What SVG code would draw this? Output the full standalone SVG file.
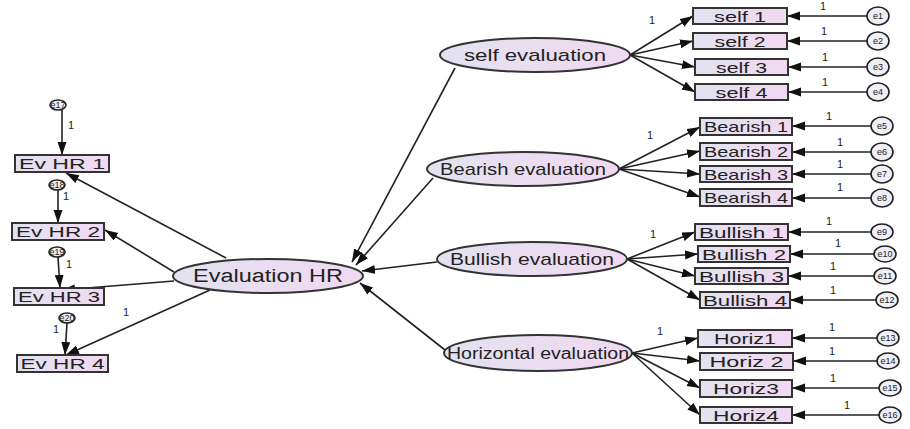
<svg xmlns="http://www.w3.org/2000/svg" width="910" height="429" viewBox="0 0 910 429">
<defs>
<linearGradient id="g" x1="0" y1="0" x2="1" y2="0">
<stop offset="0" stop-color="#e2e2f0"/>
<stop offset="1" stop-color="#f1d9f1"/>
</linearGradient>
<marker id="ah" markerUnits="userSpaceOnUse" markerWidth="14" markerHeight="10" refX="13" refY="4.5" orient="auto">
<path d="M0,0 L13,4.5 L0,9 z" fill="#111"/>
</marker>
<style>
.box{fill:url(#g);stroke:#333;stroke-width:2}
.lat{fill:url(#g);stroke:#333;stroke-width:2}
.err{fill:#f0eef6;stroke:#222;stroke-width:1.6}
.t{font-family:"Liberation Sans",Arial,sans-serif;fill:#222;text-anchor:middle}
.bt{font-size:15px}
.lt{font-size:17px}
.et{font-size:9px}
.one{font-family:"Liberation Sans",Arial,sans-serif;font-size:11px;fill:#222}
.c{stroke:#222;stroke-width:1.6;fill:none;marker-end:url(#ah)}
</style>
</defs>
<rect width="910" height="429" fill="#fff"/>

<g id="connectors">
<line class="c" x1="455" y1="68" x2="352" y2="262"/>
<line class="c" x1="433" y1="178" x2="356" y2="265"/>
<line class="c" x1="437" y1="262" x2="362" y2="271"/>
<line class="c" x1="445" y1="350" x2="360" y2="283"/>
<line class="c" x1="226" y1="258" x2="66" y2="173"/>
<line class="c" x1="174" y1="272" x2="105" y2="230"/>
<line class="c" x1="174" y1="281" x2="62" y2="290"/>
<line class="c" x1="210" y1="290" x2="66" y2="355"/>
<line class="c" x1="62" y1="110" x2="62" y2="155"/>
<line class="c" x1="58" y1="190" x2="58" y2="223"/>
<line class="c" x1="58" y1="257" x2="60" y2="288"/>
<line class="c" x1="67" y1="323" x2="65" y2="355"/>
<line class="c" x1="630" y1="55" x2="693" y2="16"/>
<line class="c" x1="630" y1="55" x2="693" y2="41"/>
<line class="c" x1="630" y1="55" x2="695" y2="67"/>
<line class="c" x1="630" y1="55" x2="695" y2="92"/>
<line class="c" x1="619" y1="169" x2="700" y2="127"/>
<line class="c" x1="619" y1="169" x2="700" y2="151"/>
<line class="c" x1="619" y1="169" x2="700" y2="174"/>
<line class="c" x1="619" y1="169" x2="700" y2="197"/>
<line class="c" x1="627" y1="259" x2="695" y2="232"/>
<line class="c" x1="627" y1="259" x2="698" y2="254"/>
<line class="c" x1="627" y1="259" x2="695" y2="276"/>
<line class="c" x1="627" y1="259" x2="700" y2="300"/>
<line class="c" x1="632" y1="353" x2="698" y2="338"/>
<line class="c" x1="632" y1="353" x2="700" y2="361"/>
<line class="c" x1="632" y1="353" x2="700" y2="388"/>
<line class="c" x1="632" y1="353" x2="700" y2="415"/>
<line class="c" x1="867" y1="16" x2="787" y2="16"/>
<line class="c" x1="867" y1="41" x2="787" y2="41"/>
<line class="c" x1="867" y1="67" x2="788" y2="67"/>
<line class="c" x1="867" y1="92" x2="788" y2="92"/>
<line class="c" x1="871" y1="126" x2="792" y2="126"/>
<line class="c" x1="871" y1="152" x2="792" y2="152"/>
<line class="c" x1="871" y1="174" x2="792" y2="174"/>
<line class="c" x1="871" y1="198" x2="792" y2="198"/>
<line class="c" x1="871" y1="232" x2="788" y2="232"/>
<line class="c" x1="874" y1="254" x2="790" y2="254"/>
<line class="c" x1="874" y1="276" x2="788" y2="276"/>
<line class="c" x1="876" y1="300" x2="790" y2="300"/>
<line class="c" x1="877" y1="338" x2="792" y2="338"/>
<line class="c" x1="877" y1="361" x2="793" y2="361"/>
<line class="c" x1="879" y1="388" x2="792" y2="388"/>
<line class="c" x1="879" y1="415" x2="792" y2="415"/>
<text class="one" x="68" y="129">1</text>
<text class="one" x="63" y="200">1</text>
<text class="one" x="66" y="268">1</text>
<text class="one" x="53" y="333">1</text>
<text class="one" x="123" y="316">1</text>
<text class="one" x="649" y="24">1</text>
<text class="one" x="647" y="139">1</text>
<text class="one" x="650" y="238">1</text>
<text class="one" x="657" y="335">1</text>
<text class="one" x="820" y="10">1</text>
<text class="one" x="821" y="35">1</text>
<text class="one" x="822" y="61">1</text>
<text class="one" x="822" y="86">1</text>
<text class="one" x="826" y="120">1</text>
<text class="one" x="837" y="146">1</text>
<text class="one" x="837" y="168">1</text>
<text class="one" x="837" y="191">1</text>
<text class="one" x="826" y="225">1</text>
<text class="one" x="835" y="247">1</text>
<text class="one" x="830" y="270">1</text>
<text class="one" x="830" y="294">1</text>
<text class="one" x="829" y="331">1</text>
<text class="one" x="829" y="355">1</text>
<text class="one" x="830" y="382">1</text>
<text class="one" x="844" y="409">1</text>
</g>

<g id="evhr1"><rect class="box" x="15" y="155" width="94" height="17"/><text class="t bt" x="62" y="169" textLength="86" lengthAdjust="spacingAndGlyphs">Ev HR 1</text></g>
<g id="evhr2"><rect class="box" x="12" y="223" width="92" height="17"/><text class="t bt" x="58" y="237" textLength="84" lengthAdjust="spacingAndGlyphs">Ev HR 2</text></g>
<g id="evhr3"><rect class="box" x="14" y="288" width="90" height="17"/><text class="t bt" x="59" y="302" textLength="82" lengthAdjust="spacingAndGlyphs">Ev HR 3</text></g>
<g id="evhr4"><rect class="box" x="17" y="355" width="91" height="17"/><text class="t bt" x="62.5" y="369" textLength="84" lengthAdjust="spacingAndGlyphs">Ev HR 4</text></g>

<g id="e17"><ellipse class="err" cx="58" cy="105" rx="8" ry="5"/><text class="t et" x="58" y="108">e17</text></g>
<g id="e18"><ellipse class="err" cx="57" cy="185" rx="8" ry="5"/><text class="t et" x="57" y="188">e18</text></g>
<g id="e19"><ellipse class="err" cx="57" cy="252" rx="8" ry="5"/><text class="t et" x="57" y="255">e19</text></g>
<g id="e20"><ellipse class="err" cx="67" cy="318" rx="8" ry="5"/><text class="t et" x="67" y="321">e20</text></g>

<g id="evalhr"><ellipse class="lat" cx="268" cy="276" rx="95" ry="17"/><text class="t" style="font-size:18px" x="268" y="282" textLength="150" lengthAdjust="spacingAndGlyphs">Evaluation HR</text></g>
<g id="selfeval"><ellipse class="lat" cx="535" cy="55" rx="95" ry="17"/><text class="t lt" x="535" y="61" textLength="142" lengthAdjust="spacingAndGlyphs">self evaluation</text></g>
<g id="beareval"><ellipse class="lat" cx="523" cy="169" rx="96" ry="17"/><text class="t lt" x="523" y="175" textLength="166" lengthAdjust="spacingAndGlyphs">Bearish evaluation</text></g>
<g id="bulleval"><ellipse class="lat" cx="532" cy="259" rx="95" ry="17"/><text class="t lt" x="532" y="265" textLength="164" lengthAdjust="spacingAndGlyphs">Bullish evaluation</text></g>
<g id="horeval"><ellipse class="lat" cx="538" cy="353" rx="94" ry="18"/><text class="t" style="font-size:16px" x="538" y="359" textLength="182" lengthAdjust="spacingAndGlyphs">Horizontal evaluation</text></g>

<g id="self1"><rect class="box" x="693" y="8" width="94" height="16"/><text class="t bt" x="740" y="21.5" textLength="52" lengthAdjust="spacingAndGlyphs">self 1</text></g>
<g id="self2"><rect class="box" x="693" y="33" width="94" height="16"/><text class="t bt" x="740" y="46.5" textLength="51" lengthAdjust="spacingAndGlyphs">self 2</text></g>
<g id="self3"><rect class="box" x="695" y="59" width="93" height="16"/><text class="t bt" x="741.5" y="72.5" textLength="51" lengthAdjust="spacingAndGlyphs">self 3</text></g>
<g id="self4"><rect class="box" x="695" y="84" width="93" height="16"/><text class="t bt" x="741.5" y="97.5" textLength="52" lengthAdjust="spacingAndGlyphs">self 4</text></g>

<g id="bear1"><rect class="box" x="700" y="118" width="92" height="17"/><text class="t bt" x="746" y="132" textLength="84" lengthAdjust="spacingAndGlyphs">Bearish 1</text></g>
<g id="bear2"><rect class="box" x="700" y="143" width="92" height="17"/><text class="t bt" x="746" y="157" textLength="84" lengthAdjust="spacingAndGlyphs">Bearish 2</text></g>
<g id="bear3"><rect class="box" x="700" y="166" width="92" height="16"/><text class="t bt" x="746" y="179.5" textLength="84" lengthAdjust="spacingAndGlyphs">Bearish 3</text></g>
<g id="bear4"><rect class="box" x="700" y="189" width="92" height="17"/><text class="t bt" x="746" y="203" textLength="84" lengthAdjust="spacingAndGlyphs">Bearish 4</text></g>

<g id="bull1"><rect class="box" x="695" y="224" width="93" height="16"/><text class="t bt" x="741.5" y="237.5" textLength="85" lengthAdjust="spacingAndGlyphs">Bullish 1</text></g>
<g id="bull2"><rect class="box" x="698" y="246" width="92" height="16"/><text class="t bt" x="744" y="259.5" textLength="84" lengthAdjust="spacingAndGlyphs">Bullish 2</text></g>
<g id="bull3"><rect class="box" x="695" y="268" width="93" height="16"/><text class="t bt" x="741.5" y="281.5" textLength="85" lengthAdjust="spacingAndGlyphs">Bullish 3</text></g>
<g id="bull4"><rect class="box" x="700" y="292" width="90" height="16"/><text class="t bt" x="745" y="305.5" textLength="84" lengthAdjust="spacingAndGlyphs">Bullish 4</text></g>

<g id="hor1"><rect class="box" x="698" y="330" width="94" height="17"/><text class="t bt" x="745" y="344" textLength="62" lengthAdjust="spacingAndGlyphs">Horiz1</text></g>
<g id="hor2"><rect class="box" x="700" y="353" width="93" height="17"/><text class="t bt" x="746.5" y="367" textLength="74" lengthAdjust="spacingAndGlyphs">Horiz 2</text></g>
<g id="hor3"><rect class="box" x="700" y="380" width="92" height="17"/><text class="t bt" x="746" y="394" textLength="66" lengthAdjust="spacingAndGlyphs">Horiz3</text></g>
<g id="hor4"><rect class="box" x="700" y="407" width="92" height="16"/><text class="t bt" x="746" y="420.5" textLength="66" lengthAdjust="spacingAndGlyphs">Horiz4</text></g>

<g id="e1"><ellipse class="err" cx="878" cy="16" rx="11" ry="9"/><text class="t et" x="878" y="19">e1</text></g>
<g id="e2"><ellipse class="err" cx="878" cy="41" rx="11" ry="9"/><text class="t et" x="878" y="44">e2</text></g>
<g id="e3"><ellipse class="err" cx="878" cy="67" rx="11" ry="9"/><text class="t et" x="878" y="70">e3</text></g>
<g id="e4"><ellipse class="err" cx="878" cy="92" rx="11" ry="9"/><text class="t et" x="878" y="95">e4</text></g>
<g id="e5"><ellipse class="err" cx="882" cy="126" rx="11" ry="9"/><text class="t et" x="882" y="129">e5</text></g>
<g id="e6"><ellipse class="err" cx="882" cy="152" rx="11" ry="9"/><text class="t et" x="882" y="155">e6</text></g>
<g id="e7"><ellipse class="err" cx="882" cy="174" rx="11" ry="9"/><text class="t et" x="882" y="177">e7</text></g>
<g id="e8"><ellipse class="err" cx="882" cy="198" rx="11" ry="9"/><text class="t et" x="882" y="201">e8</text></g>
<g id="e9"><ellipse class="err" cx="882" cy="232" rx="11" ry="8"/><text class="t et" x="882" y="235">e9</text></g>
<g id="e10"><ellipse class="err" cx="885" cy="254" rx="11" ry="8"/><text class="t et" x="885" y="257">e10</text></g>
<g id="e11"><ellipse class="err" cx="885" cy="276" rx="11" ry="8"/><text class="t et" x="885" y="279">e11</text></g>
<g id="e12"><ellipse class="err" cx="887" cy="300" rx="11" ry="8"/><text class="t et" x="887" y="303">e12</text></g>
<g id="e13"><ellipse class="err" cx="888" cy="338" rx="11" ry="8"/><text class="t et" x="888" y="341">e13</text></g>
<g id="e14"><ellipse class="err" cx="888" cy="361" rx="11" ry="8"/><text class="t et" x="888" y="364">e14</text></g>
<g id="e15"><ellipse class="err" cx="890" cy="388" rx="11" ry="8"/><text class="t et" x="890" y="391">e15</text></g>
<g id="e16"><ellipse class="err" cx="890" cy="415" rx="11" ry="8"/><text class="t et" x="890" y="418">e16</text></g>
</svg>
